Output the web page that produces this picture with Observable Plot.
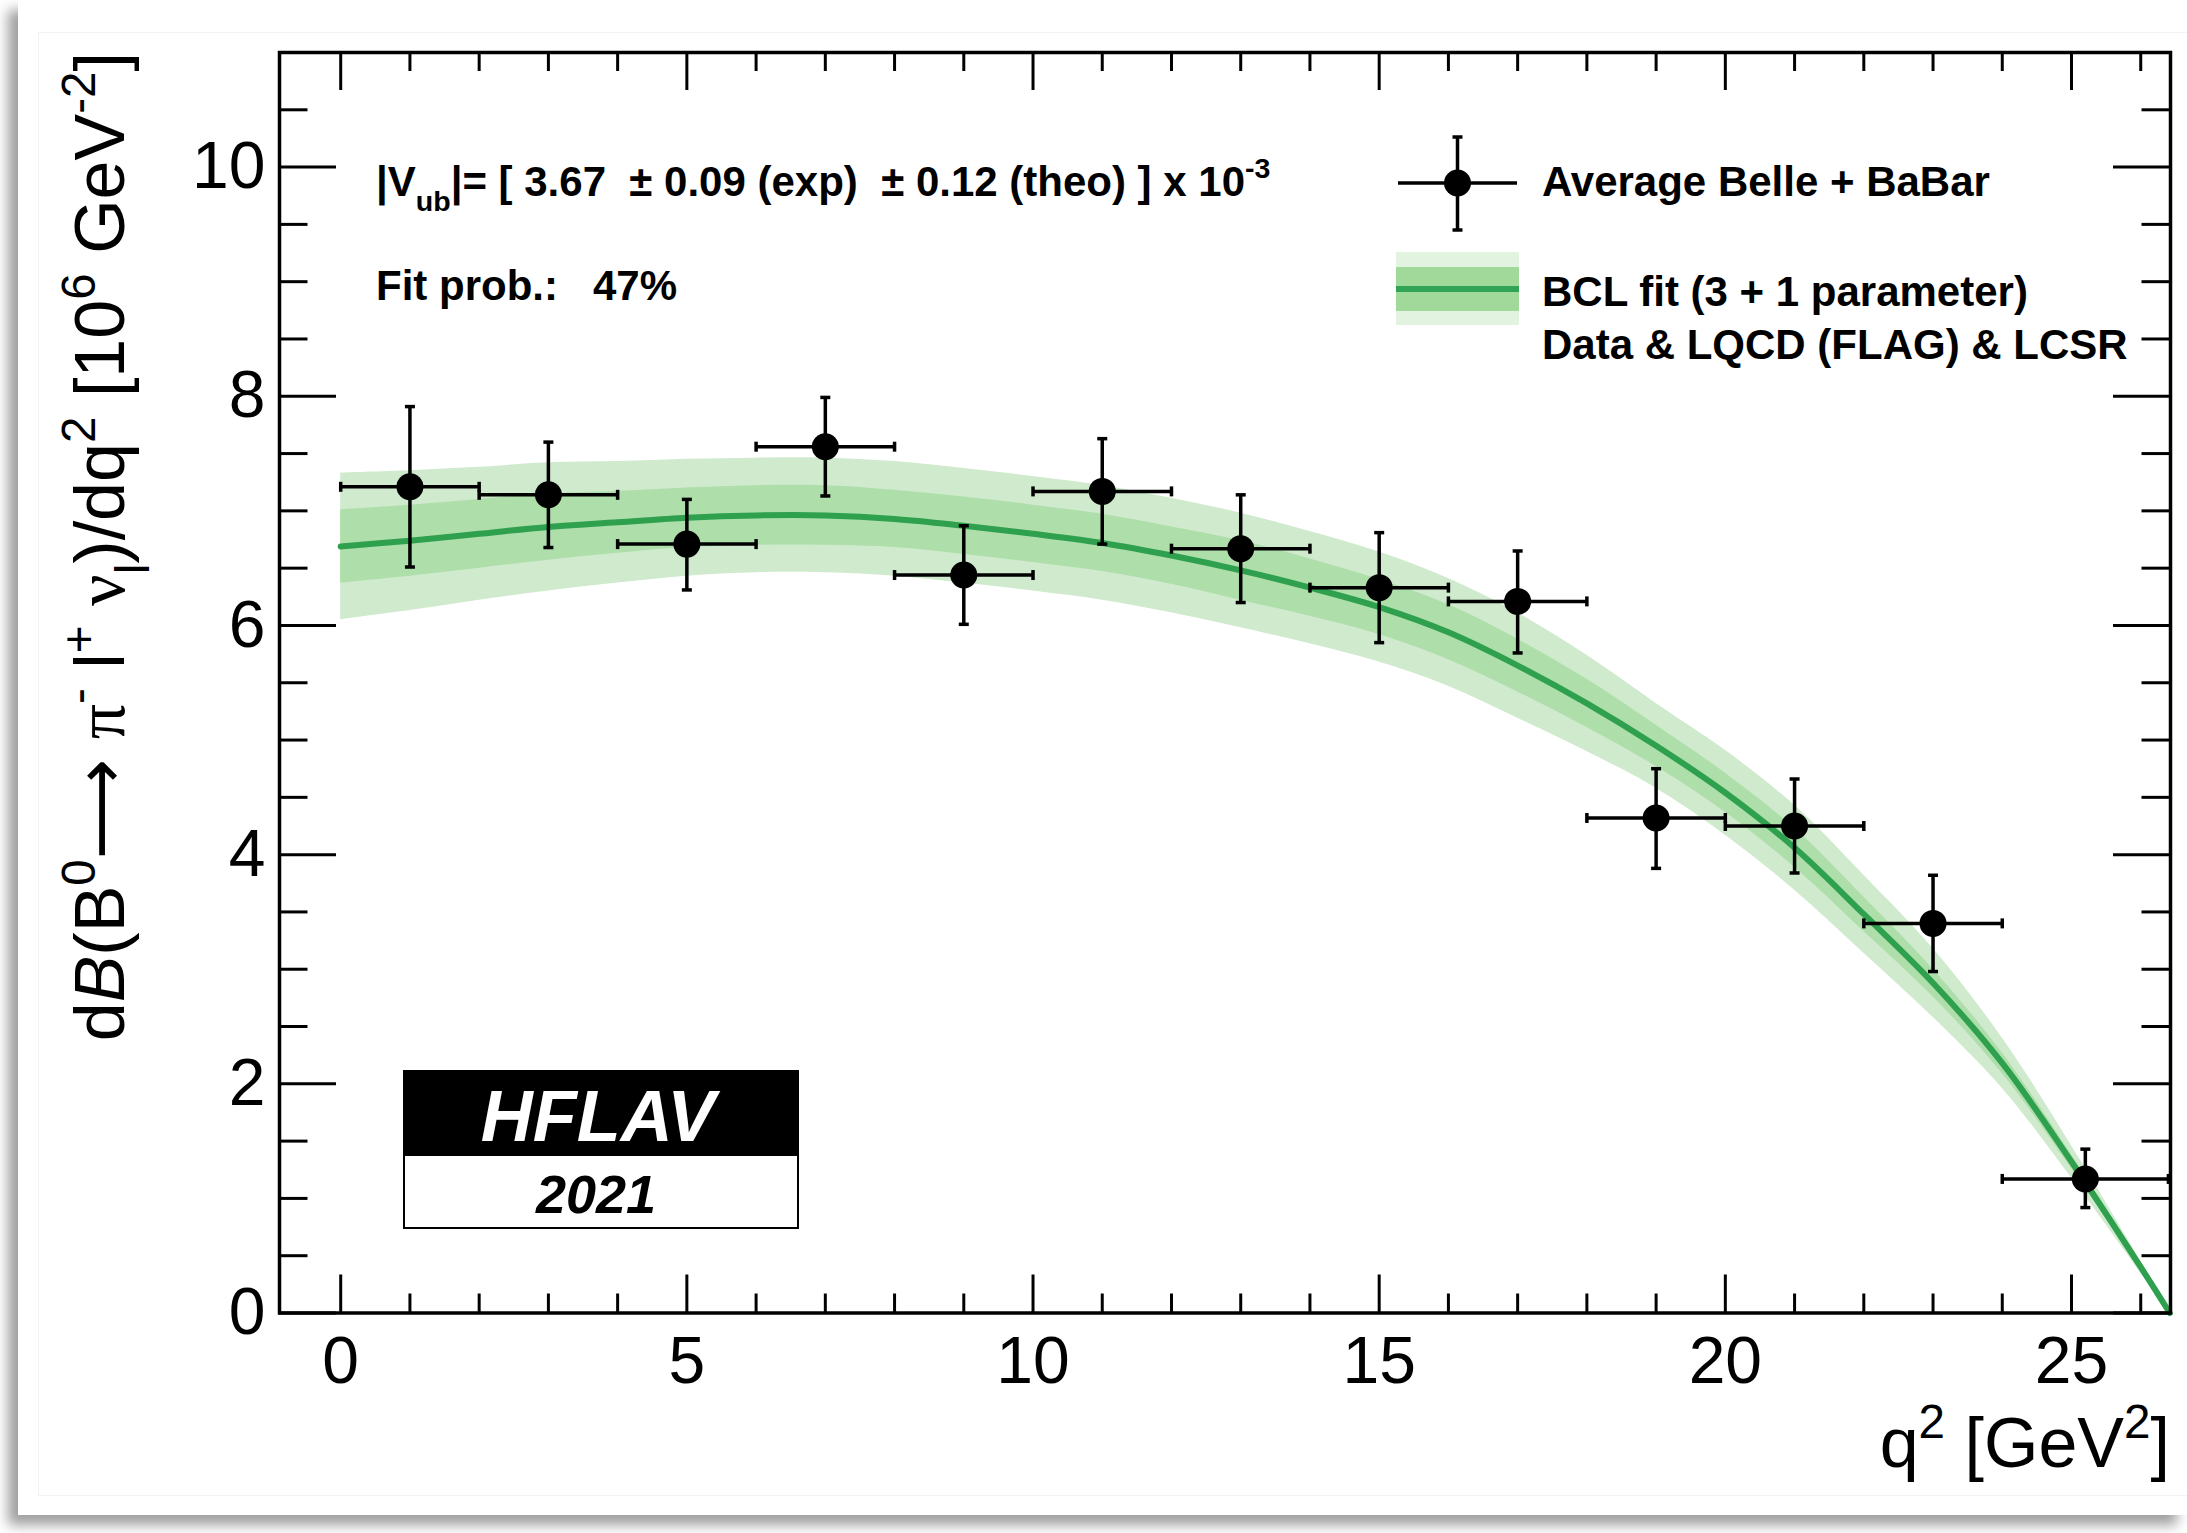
<!DOCTYPE html>
<html><head><meta charset="utf-8">
<script src="https://cdn.jsdelivr.net/npm/d3@7"></script>
<script src="https://cdn.jsdelivr.net/npm/@observablehq/plot@0.6"></script>
<style>
html,body{margin:0;padding:0;background:#fff;}
#wrap{position:relative;width:2187px;height:1533px;overflow:hidden;background:#fff;}
#card{position:absolute;left:18px;top:0;width:2169px;height:1515px;background:#fff;box-shadow:-10px 10px 12px rgba(0,0,0,0.38);}
#inner{position:absolute;left:38px;top:32px;width:2149px;height:1462px;border-top:1px solid #f2f2f2;border-left:1px solid #f2f2f2;border-bottom:1px solid #f2f2f2;}
#chart{position:absolute;left:0;top:0;}
</style></head><body>
<div id="wrap"><div id="card"></div><div id="inner"></div><div id="chart"></div></div>
<script>
// ---- data ----
const binLow   = [0, 2, 4, 6, 8, 10, 12, 14, 16, 18, 20, 22, 24];
const binHigh  = [2, 4, 6, 8, 10, 12, 14, 16, 18, 20, 22, 24, 26.4];
const qCenter  = [1, 3, 5, 7, 9, 11, 13, 15, 17, 19, 21, 23, 25.2];
const rate     = [7.21, 7.14, 6.71, 7.56, 6.44, 7.17, 6.67, 6.33, 6.21, 4.32, 4.25, 3.40, 1.17];
const rateLow  = [6.51, 6.68, 6.31, 7.13, 6.01, 6.71, 6.20, 5.85, 5.76, 3.88, 3.84, 2.98, 0.92];
const rateHigh = [7.91, 7.60, 7.10, 7.99, 6.87, 7.63, 7.14, 6.81, 6.65, 4.75, 4.66, 3.82, 1.43];

const fitQ       = [0, 1, 2, 3, 4, 5, 6, 7, 8, 9, 10, 11, 12, 13, 14, 15, 16, 17, 18, 19, 20, 21, 22, 23, 24, 25, 26, 26.42];
const fitCentral = [6.69, 6.74, 6.80, 6.86, 6.90, 6.94, 6.96, 6.96, 6.93, 6.87, 6.80, 6.72, 6.61, 6.48, 6.33, 6.16, 5.94, 5.65, 5.32, 4.95, 4.54, 4.06, 3.48, 2.88, 2.18, 1.32, 0.40, 0.0];
const fitInner   = [0.32, 0.31, 0.30, 0.29, 0.27, 0.26, 0.26, 0.26, 0.25, 0.25, 0.25, 0.25, 0.25, 0.26, 0.25, 0.24, 0.24, 0.23, 0.21, 0.18, 0.17, 0.17, 0.15, 0.12, 0.09, 0.06, 0.02, 0.0];
const fitOuter   = [0.64, 0.61, 0.58, 0.56, 0.53, 0.51, 0.50, 0.50, 0.50, 0.50, 0.50, 0.50, 0.50, 0.50, 0.49, 0.48, 0.47, 0.46, 0.42, 0.37, 0.37, 0.37, 0.34, 0.30, 0.22, 0.14, 0.05, 0.0];

const xMajor = [0, 5, 10, 15, 20, 25];
const xMinor = [1, 2, 3, 4, 6, 7, 8, 9, 11, 12, 13, 14, 16, 17, 18, 19, 21, 22, 23, 24, 26];
const yMajor = [0, 2, 4, 6, 8, 10];
const yMinor = [0.5, 1, 1.5, 2.5, 3, 3.5, 4.5, 5, 5.5, 6.5, 7, 7.5, 8.5, 9, 9.5, 10.5];

// ---- layout ----
const W = 2187, H = 1533;
const ML = 279, MR = 17, MT = 52, MB = 220.5;
const xDom = [-0.884, 26.43], yDom = [0, 11];
const pxX = (W - ML - MR) / (xDom[1] - xDom[0]);
const pxY = (H - MT - MB) / (yDom[1] - yDom[0]);
const FONT = "'Liberation Sans', Arial, Helvetica, sans-serif";

const points = qCenter.map((q, i) => ({q, lo: binLow[i], hi: binHigh[i], r: rate[i], rlo: rateLow[i], rhi: rateHigh[i]}));
const fit = fitQ.map((q, i) => ({q, c: fitCentral[i],
  lo1: fitCentral[i] - fitInner[i], hi1: fitCentral[i] + fitInner[i],
  lo2: fitCentral[i] - fitOuter[i], hi2: fitCentral[i] + fitOuter[i]}));

const vCap = {draw(ctx, size) { const r = Math.sqrt(size / Math.PI); ctx.moveTo(0, -r); ctx.lineTo(0, r); }};
const hCap = {draw(ctx, size) { const r = Math.sqrt(size / Math.PI); ctx.moveTo(-r, 0); ctx.lineTo(r, 0); }};

const xT = 38 / pxY, xt = 19 / pxY, yT = 57 / pxX, yt = 28.5 / pxX;
const TW = 3;

const plot = Plot.plot({
  width: W, height: H,
  marginLeft: ML, marginRight: MR, marginTop: MT, marginBottom: MB,
  x: {domain: xDom}, y: {domain: yDom},
  style: {fontFamily: FONT, background: "transparent", color: "black"},
  marks: [
    Plot.areaY(fit, {x: "q", y1: "lo2", y2: "hi2", fill: "#cfeacd", curve: "catmull-rom"}),
    Plot.areaY(fit, {x: "q", y1: "lo1", y2: "hi1", fill: "#aedeaa", curve: "catmull-rom"}),
    Plot.line(fit, {x: "q", y: "c", stroke: "#2ea04e", strokeWidth: 6, curve: "catmull-rom"}),
    // error bars
    Plot.ruleY(points, {y: "r", x1: "lo", x2: "hi", stroke: "black", strokeWidth: 3.5}),
    Plot.ruleX(points, {x: "q", y1: "rlo", y2: "rhi", stroke: "black", strokeWidth: 3.5}),
    Plot.dot(points, {x: "lo", y: "r", symbol: vCap, r: 5, stroke: "black", strokeWidth: 3.5}),
    Plot.dot(points, {x: "hi", y: "r", symbol: vCap, r: 5, stroke: "black", strokeWidth: 3.5}),
    Plot.dot(points, {x: "q", y: "rlo", symbol: hCap, r: 5, stroke: "black", strokeWidth: 3.5}),
    Plot.dot(points, {x: "q", y: "rhi", symbol: hCap, r: 5, stroke: "black", strokeWidth: 3.5}),
    Plot.dot(points, {x: "q", y: "r", r: 13.5, fill: "black"}),
    // inward ticks (ROOT style)
    Plot.ruleX(xMajor, {x: d => d, y1: 0, y2: xT, stroke: "black", strokeWidth: TW}),
    Plot.ruleX(xMinor, {x: d => d, y1: 0, y2: xt, stroke: "black", strokeWidth: TW}),
    Plot.ruleX(xMajor, {x: d => d, y1: 11, y2: 11 - xT, stroke: "black", strokeWidth: TW}),
    Plot.ruleX(xMinor, {x: d => d, y1: 11, y2: 11 - xt, stroke: "black", strokeWidth: TW}),
    Plot.ruleY(yMajor, {y: d => d, x1: xDom[0], x2: xDom[0] + yT, stroke: "black", strokeWidth: TW}),
    Plot.ruleY(yMinor, {y: d => d, x1: xDom[0], x2: xDom[0] + yt, stroke: "black", strokeWidth: TW}),
    Plot.ruleY(yMajor, {y: d => d, x1: xDom[1], x2: xDom[1] - yT, stroke: "black", strokeWidth: TW}),
    Plot.ruleY(yMinor, {y: d => d, x1: xDom[1], x2: xDom[1] - yt, stroke: "black", strokeWidth: TW}),
    Plot.frame({stroke: "black", strokeWidth: 3.5}),
    Plot.axisX({ticks: xMajor, tickSize: 0, tickPadding: 23, fontSize: 66, label: null, tickFormat: d => String(d)}),
    Plot.axisY({ticks: yMajor, tickSize: 0, tickPadding: 14, fontSize: 66, label: null, tickFormat: d => String(d)})
  ]
});
document.getElementById("chart").appendChild(plot);

// ---- annotations ----
const svg = d3.select(plot);
const g = svg.append("g").attr("font-family", FONT).attr("fill", "black").attr("text-anchor", "start");

function rich(parent, x, y, parts, size, attrs = {}) {
  const t = parent.append("text").attr("x", x).attr("y", y).attr("font-size", size).attr("text-anchor", "start");
  for (const [k, v] of Object.entries(attrs)) t.attr(k, v);
  let shift = 0;
  for (const p of parts) {
    const s = t.append("tspan").text(p.t);
    let target = 0, fs = size;
    if (p.sup) { target = -0.42 * size; fs = 0.68 * size; }
    if (p.sub) { target = 0.36 * size; fs = 0.68 * size; }
    s.attr("font-size", fs).attr("dy", target - shift);
    shift = target;
    if (p.italic) s.attr("font-style", "italic");
    if (p.family) s.attr("font-family", p.family);
  }
  return t;
}

// axis titles
rich(g, W - MR, 1467, [{t: "q"}, {t: "2", sup: true}, {t: " [GeV"}, {t: "2", sup: true}, {t: "]"}], 70, {"text-anchor": "end"});
const SER = "'Liberation Serif', 'DejaVu Serif', serif";
rich(g, 0, 0, [
  {t: "d"}, {t: "B", italic: true}, {t: "(B"}, {t: "0", sup: true}, {t: "\u27f6", family: "'DejaVu Sans', sans-serif"}, {t: " "},
  {t: "\u03c0", family: SER}, {t: "-", sup: true}, {t: " l"}, {t: "+", sup: true}, {t: " "},
  {t: "\u03bd", family: SER}, {t: "l", sub: true}, {t: ")/dq"}, {t: "2", sup: true},
  {t: " [10"}, {t: "6", sup: true}, {t: " GeV"}, {t: "-2", sup: true}, {t: "]"}
], 70, {"text-anchor": "end", transform: `translate(124,${MT}) rotate(-90)`});

// |Vub| and fit probability
const gb = g.append("g").attr("font-weight", "bold");
rich(gb, 376, 196, [{t: "|V"}, {t: "ub", sub: true}, {t: "|= [ 3.67 \u00a0\u00b1 0.09 (exp) \u00a0\u00b1 0.12 (theo) ] x 10"}, {t: "-3", sup: true}], 42);
gb.append("text").attr("x", 376).attr("y", 300).attr("font-size", 42).attr("text-anchor", "start").text("Fit prob.: \u00a0\u00a047%");

// legend
const lg = g.append("g");
const mx = 1457.5, my = 183;
lg.append("line").attr("x1", 1398).attr("x2", 1517).attr("y1", my).attr("y2", my).attr("stroke", "black").attr("stroke-width", 3.5);
lg.append("line").attr("x1", mx).attr("x2", mx).attr("y1", 137).attr("y2", 230).attr("stroke", "black").attr("stroke-width", 3.5);
lg.append("line").attr("x1", mx - 5).attr("x2", mx + 5).attr("y1", 137).attr("y2", 137).attr("stroke", "black").attr("stroke-width", 3.5);
lg.append("line").attr("x1", mx - 5).attr("x2", mx + 5).attr("y1", 230).attr("y2", 230).attr("stroke", "black").attr("stroke-width", 3.5);
lg.append("circle").attr("cx", mx).attr("cy", my).attr("r", 13.5).attr("fill", "black");
lg.append("rect").attr("x", 1396).attr("y", 252).attr("width", 123).attr("height", 73).attr("fill", "#e2f4e0");
lg.append("rect").attr("x", 1396).attr("y", 267).attr("width", 123).attr("height", 44).attr("fill", "#a1d99b");
lg.append("rect").attr("x", 1396).attr("y", 286).attr("width", 123).attr("height", 6).attr("fill", "#31a354");
const lt = lg.append("g").attr("font-weight", "bold").attr("font-size", 42).attr("text-anchor", "start");
lt.append("text").attr("x", 1542).attr("y", 196).text("Average Belle + BaBar");
lt.append("text").attr("x", 1542).attr("y", 306).text("BCL fit (3 + 1 parameter)");
lt.append("text").attr("x", 1542).attr("y", 359).text("Data & LQCD (FLAG) & LCSR");

// HFLAV logo
const lo = g.append("g");
lo.append("rect").attr("x", 404).attr("y", 1155).attr("width", 394).attr("height", 73).attr("fill", "white").attr("stroke", "black").attr("stroke-width", 2);
lo.append("rect").attr("x", 403).attr("y", 1070).attr("width", 396).attr("height", 85).attr("fill", "black");
lo.append("text").attr("x", 598).attr("y", 1141).attr("text-anchor", "middle").attr("font-size", 72).attr("font-weight", "bold").attr("font-style", "italic").attr("fill", "white").text("HFLAV");
lo.append("text").attr("x", 596).attr("y", 1213).attr("text-anchor", "middle").attr("font-size", 54).attr("font-weight", "bold").attr("font-style", "italic").attr("fill", "black").text("2021");
</script></body></html>
